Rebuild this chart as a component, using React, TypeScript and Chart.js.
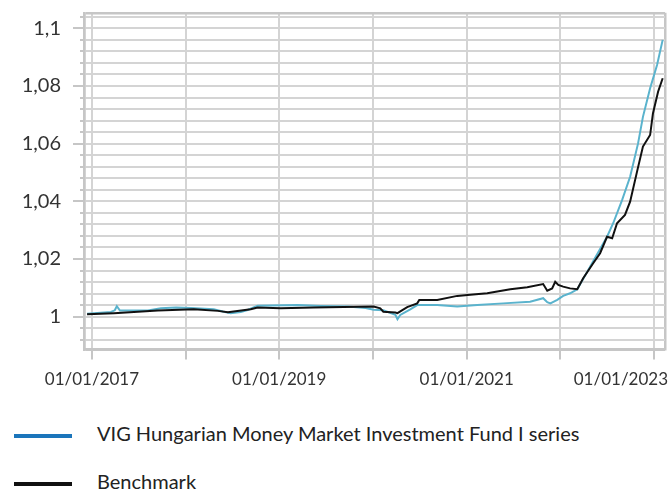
import React, { useEffect, useRef } from 'react';
import { Chart, registerables } from 'chart.js';

Chart.register(...registerables);

const fundLabel = 'VIG Hungarian Money Market Investment Fund I series';
const benchLabel = 'Benchmark';

const fundDates = [
  '2016-12-13', '2017-03-16', '2017-03-31', '2017-04-08', '2017-04-20', '2017-08-07', '2017-09-27',
  '2017-11-25', '2018-01-21', '2018-04-21', '2018-05-26', '2018-06-26', '2018-08-04', '2018-08-31',
  '2018-10-09', '2019-03-14', '2019-06-12', '2019-09-25', '2019-12-04', '2020-01-04', '2020-02-11',
  '2020-03-29', '2020-04-06', '2020-04-17', '2020-05-26', '2020-06-22', '2020-09-08', '2020-11-25',
  '2021-02-11', '2021-05-23', '2021-09-05', '2021-10-26', '2021-11-11', '2021-11-23', '2021-12-20',
  '2022-01-12', '2022-02-08', '2022-03-08', '2022-04-27', '2022-07-02', '2022-07-26', '2022-08-30',
  '2022-09-30', '2022-10-31', '2022-11-19', '2022-12-17', '2023-01-13', '2023-02-04',
];
const fundValues = [
  1.0010, 1.0016, 1.0022, 1.0036, 1.0021, 1.0021, 1.0029,
  1.0032, 1.0030, 1.0026, 1.0018, 1.0012, 1.0016, 1.0023,
  1.0038, 1.0040, 1.0037, 1.0035, 1.0030, 1.0024, 1.0022,
  1.0006, 0.9991, 1.0006, 1.0025, 1.0040, 1.0040, 1.0035,
  1.0040, 1.0046, 1.0052, 1.0064, 1.0050, 1.0046, 1.0058,
  1.0072, 1.0081, 1.0095, 1.0173, 1.0277, 1.0324, 1.0405,
  1.0485, 1.0601, 1.0693, 1.0792, 1.0873, 1.0960,
];

const benchDates = [
  '2016-12-13', '2017-03-28', '2017-09-15', '2018-02-02', '2018-05-07', '2018-06-15', '2018-09-12',
  '2018-10-09', '2019-01-07', '2019-05-15', '2020-01-04', '2020-01-30', '2020-02-11', '2020-03-29',
  '2020-04-06', '2020-05-14', '2020-06-22', '2020-06-30', '2020-09-08', '2020-11-25', '2021-01-15',
  '2021-03-22', '2021-04-30', '2021-06-20', '2021-08-25', '2021-10-26', '2021-11-11', '2021-11-30',
  '2021-12-12', '2021-12-24', '2022-01-12', '2022-02-08', '2022-03-08', '2022-03-31', '2022-05-09',
  '2022-06-05', '2022-07-02', '2022-07-22', '2022-08-10', '2022-09-10', '2022-09-30', '2022-10-27',
  '2022-11-19', '2022-12-17', '2022-12-28', '2023-01-17', '2023-02-04',
];
const benchValues = [
  1.0008, 1.0012, 1.0021, 1.0026, 1.0020, 1.0015, 1.0026,
  1.0032, 1.0029, 1.0032, 1.0035, 1.0029, 1.0017, 1.0014,
  1.0012, 1.0033, 1.0046, 1.0058, 1.0058, 1.0072, 1.0076,
  1.0081, 1.0087, 1.0095, 1.0102, 1.0113, 1.0090, 1.0098,
  1.0121, 1.0110, 1.0104, 1.0098, 1.0095, 1.0133, 1.0185,
  1.0220, 1.0277, 1.0272, 1.0324, 1.0353, 1.0399, 1.0503,
  1.0590, 1.0630, 1.0705, 1.0780, 1.0827,
];

const xRange = ['2016-12-01', '2023-02-13'];
const yearTicks = [2017, 2018, 2019, 2020, 2021, 2022, 2023];
const labeledYears = [2017, 2019, 2021, 2023];
const yRange = [0.9886, 1.1054];
const yGridStep = 0.004;
const yLabelValues = [1, 1.02, 1.04, 1.06, 1.08, 1.1];

const FONT = 'Lato';
const fundColor = '#5ab3cd';
const fundLegendColor = '#1b75bb';
const benchColor = '#111111';
const gridColor = '#d4d4d4';
const frameColor = '#c6c6c6';

const toMs = (s: string) => Date.parse(s + 'T00:00:00Z');
const fmtY = (v: number) => String(+v.toFixed(2)).replace('.', ',');
const isYLabel = (v: number) => yLabelValues.some((l) => Math.abs(l - v) < 1e-6);

export default function App() {
  const ref = useRef<HTMLCanvasElement>(null);

  useEffect(() => {
    const canvas = ref.current!;
    const xMin = toMs(xRange[0]);
    const xMax = toMs(xRange[1]);
    const isXEdge = (c: any) => c.tick && (c.tick.value === xMin || c.tick.value === xMax);

    const customAxes = {
      id: 'customAxes',
      afterDraw(chart: any) {
        const { ctx, chartArea } = chart;
        const ys = chart.scales.y;
        const xs = chart.scales.x;
        ctx.save();
        ctx.strokeStyle = frameColor;
        ctx.lineWidth = 2;
        ys.ticks.forEach((t: any) => {
          if (isYLabel(t.value) || t.value === yRange[0] || t.value === yRange[1]) return;
          const py = Math.round(ys.getPixelForValue(t.value));
          ctx.beginPath();
          ctx.moveTo(chartArea.left - 4, py);
          ctx.lineTo(chartArea.left, py);
          ctx.stroke();
        });
        ctx.font = `17px ${FONT}`;
        ctx.fillStyle = '#333333';
        ctx.textBaseline = 'alphabetic';
        ctx.textAlign = 'left';
        labeledYears.forEach((yr) => {
          const px = xs.getPixelForValue(Date.UTC(yr, 0, 1));
          const text = `01/01/${yr}`;
          const w = ctx.measureText(text).width;
          let left = px - w / 2;
          if (left + w > chart.width - 4) left = chart.width - 4 - w;
          ctx.fillText(text, left, 385);
        });
        ctx.restore();
      },
    };

    const chart = new Chart(canvas, {
      type: 'line',
      data: {
        datasets: [
          {
            label: fundLabel,
            data: fundDates.map((d, i) => ({ x: toMs(d), y: fundValues[i] })),
            borderColor: fundColor,
            borderWidth: 2,
            pointRadius: 0,
            tension: 0,
            order: 1,
          },
          {
            label: benchLabel,
            data: benchDates.map((d, i) => ({ x: toMs(d), y: benchValues[i] })),
            borderColor: benchColor,
            borderWidth: 2,
            pointRadius: 0,
            tension: 0,
            order: 0,
          },
        ],
      },
      options: {
        animation: false,
        responsive: false,
        maintainAspectRatio: false,
        layout: { padding: { top: 12.8, right: 7, left: 0, bottom: 0 } },
        plugins: { legend: { display: false }, tooltip: { enabled: false } },
        scales: {
          x: {
            type: 'linear',
            min: xMin,
            max: xMax,
            afterBuildTicks: (scale: any) => {
              scale.ticks = [xMin, ...yearTicks.map((y) => Date.UTC(y, 0, 1)), xMax].map((value) => ({ value }));
            },
            afterFit: (scale: any) => {
              scale.height = 50.5;
              scale.paddingLeft = 0;
              scale.paddingRight = 0;
            },
            ticks: { autoSkip: false, callback: () => '', maxRotation: 0 },
            grid: {
              color: (c: any) => (isXEdge(c) ? frameColor : gridColor),
              lineWidth: (c: any) => (isXEdge(c) ? 2.5 : 2),
              tickLength: 10,
              tickWidth: 2,
              tickColor: (c: any) => (isXEdge(c) ? 'rgba(0,0,0,0)' : frameColor),
            },
            border: { color: frameColor, width: 2.5 },
          },
          y: {
            type: 'linear',
            min: yRange[0],
            max: yRange[1],
            afterBuildTicks: (scale: any) => {
              const vals: number[] = [yRange[0]];
              for (let i = 0; ; i++) {
                const v = +(0.992 + i * yGridStep).toFixed(3);
                if (v > yRange[1]) break;
                vals.push(v);
              }
              vals.push(yRange[1]);
              scale.ticks = vals.map((value) => ({ value }));
            },
            afterFit: (scale: any) => {
              scale.width = 84;
              scale.paddingTop = 0;
              scale.paddingBottom = 0;
            },
            ticks: {
              autoSkip: false,
              padding: 12,
              color: '#333333',
              font: { family: FONT, size: 20 },
              callback: (v: any) => (isYLabel(Number(v)) ? fmtY(Number(v)) : ''),
            },
            grid: {
              color: (c: any) => (c.tick && (c.tick.value === yRange[0] || c.tick.value === yRange[1]) ? frameColor : gridColor),
              lineWidth: (c: any) => (c.tick && c.tick.value === yRange[1] ? 2.5 : 2),
              tickLength: 11,
              tickWidth: 2,
              tickColor: (c: any) => (c.tick && isYLabel(c.tick.value) ? frameColor : 'rgba(0,0,0,0)'),
            },
            border: { color: frameColor, width: 2.5 },
          },
        },
      },
      plugins: [customAxes],
    });

    return () => chart.destroy();
  }, []);

  return (
    <div style={{ position: 'absolute', left: 0, top: 0, width: 672, height: 489, background: '#fff' }}>
      <canvas ref={ref} width={672} height={400} style={{ display: 'block' }} />
      <div style={{ position: 'absolute', left: 14, top: 433.5, width: 58, height: 4, background: fundLegendColor }} />
      <div style={{ position: 'absolute', left: 97, top: 423, font: `20px ${FONT}`, lineHeight: '20px', color: '#222', whiteSpace: 'nowrap' }}>
        {fundLabel}
      </div>
      <div style={{ position: 'absolute', left: 14, top: 481.5, width: 58, height: 4, background: benchColor }} />
      <div style={{ position: 'absolute', left: 97, top: 471, font: `20px ${FONT}`, lineHeight: '20px', color: '#222', whiteSpace: 'nowrap' }}>
        {benchLabel}
      </div>
    </div>
  );
}
